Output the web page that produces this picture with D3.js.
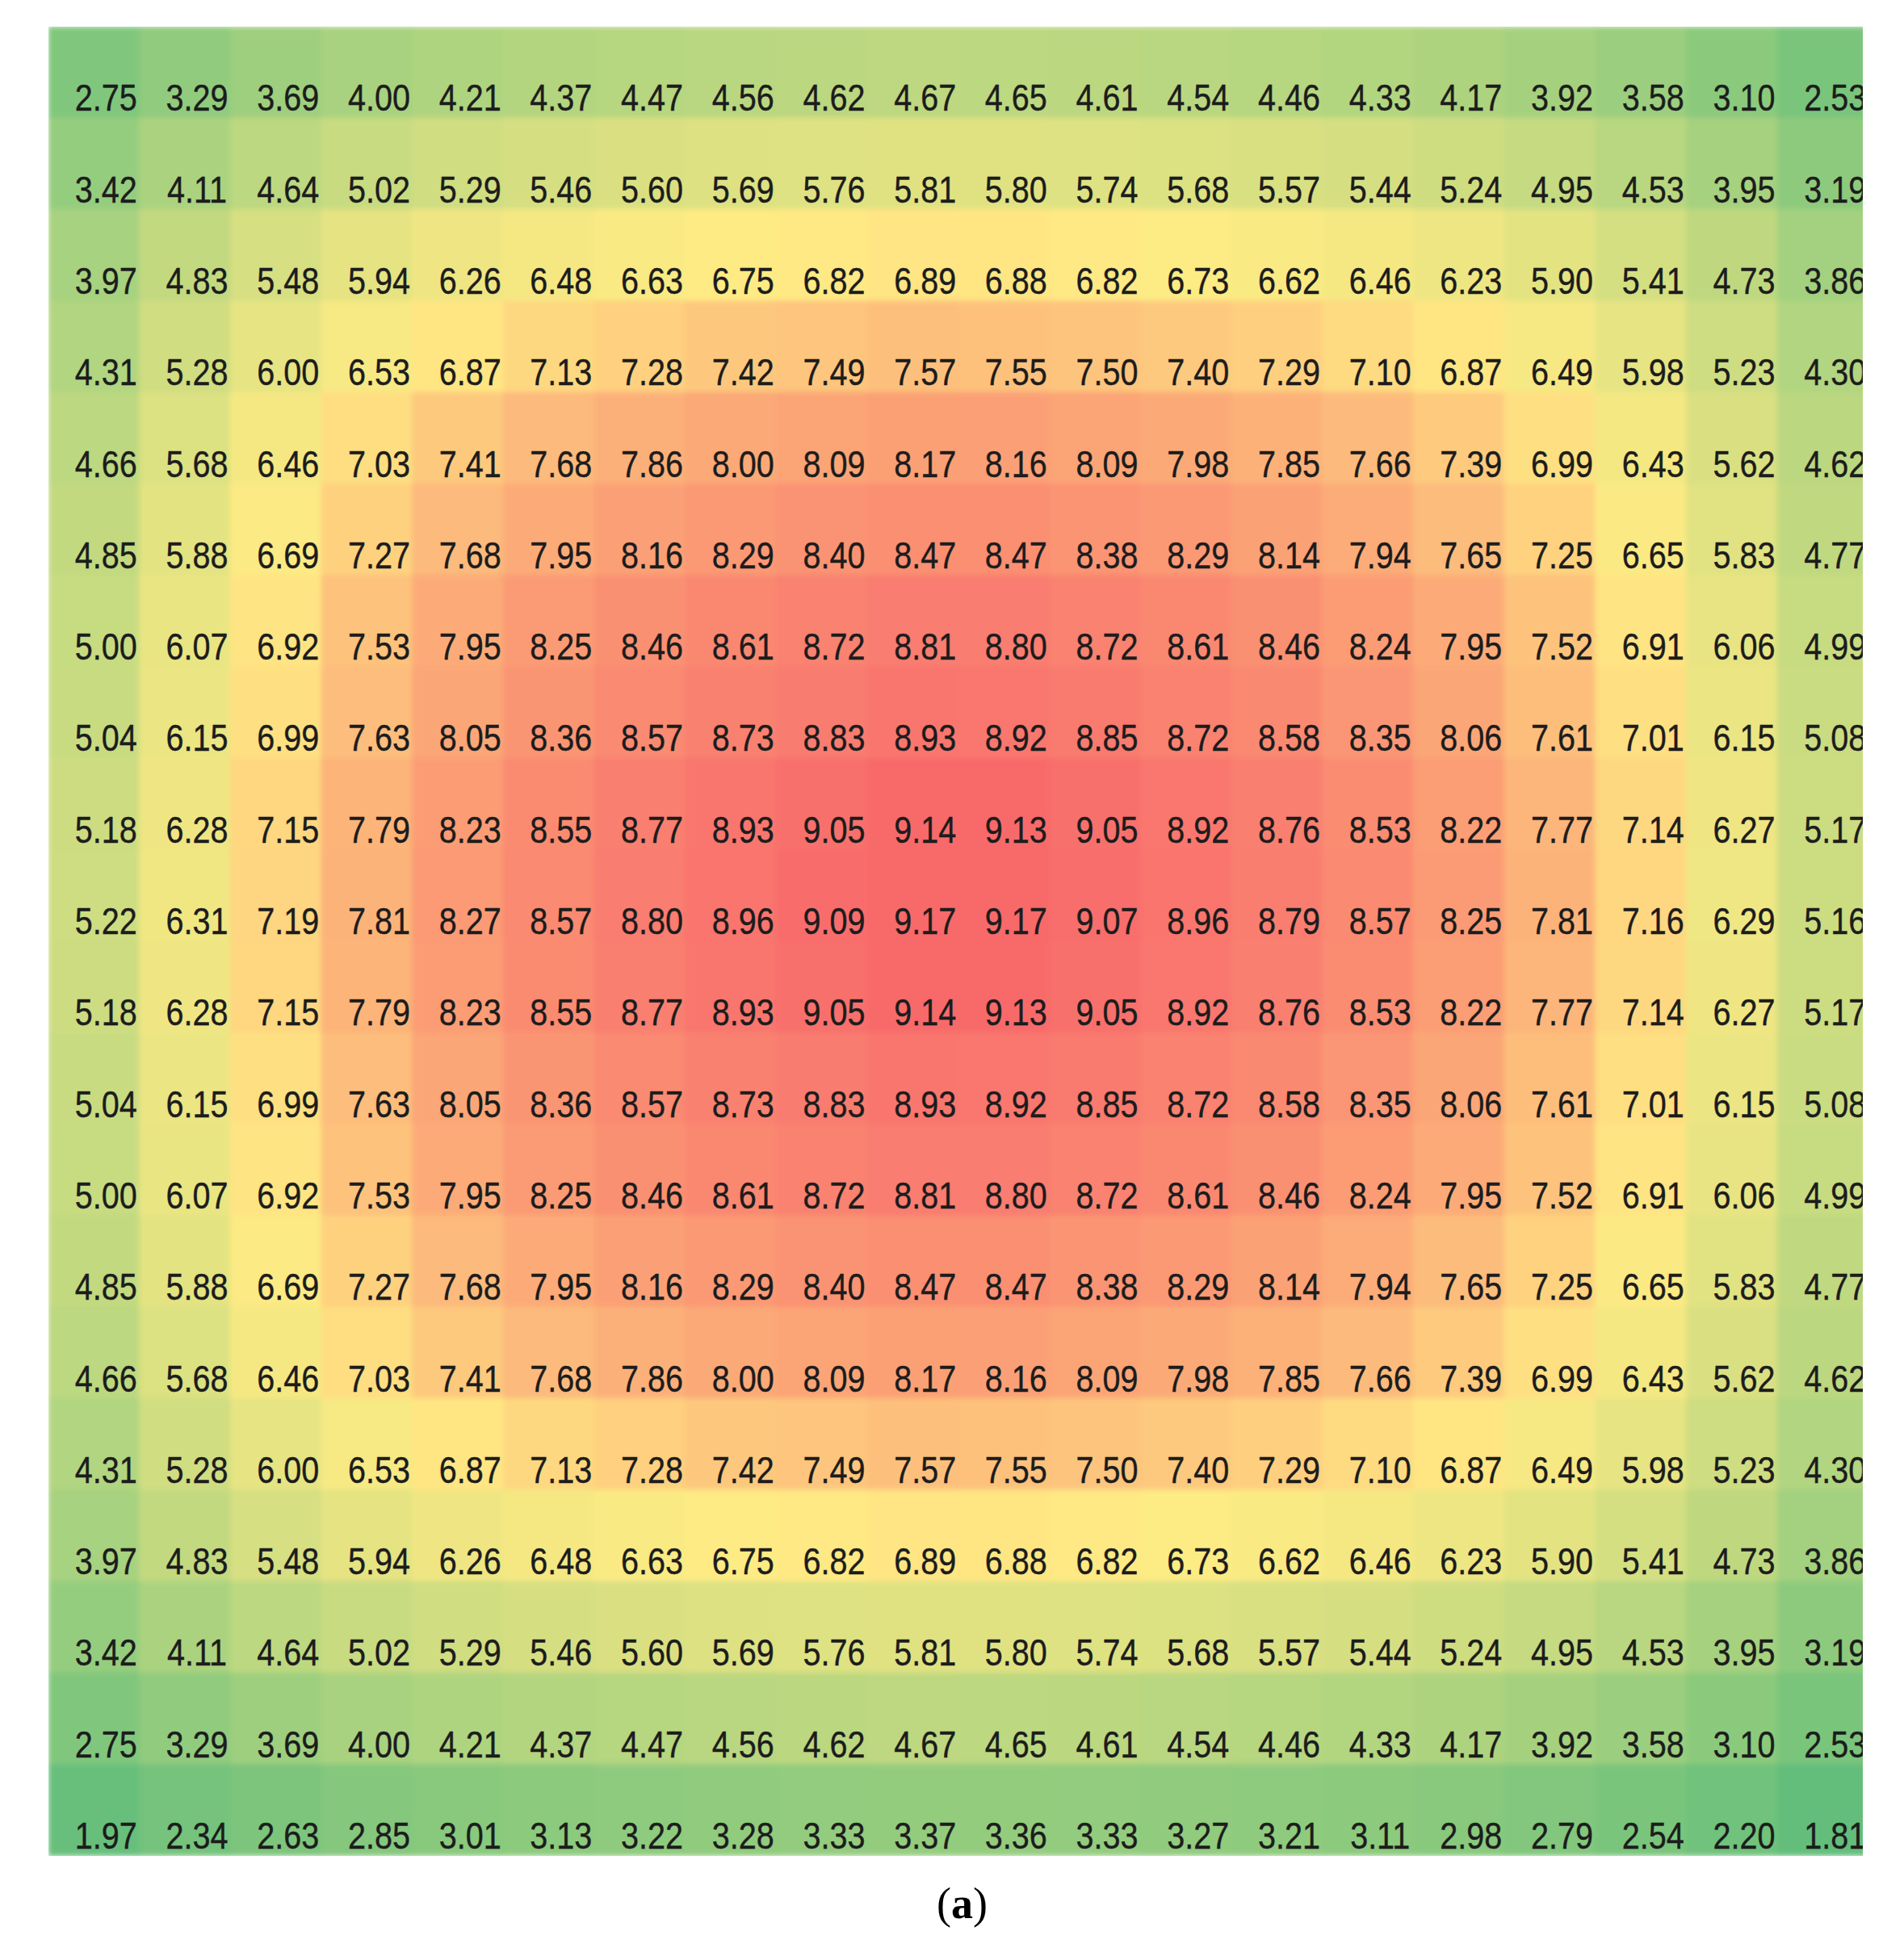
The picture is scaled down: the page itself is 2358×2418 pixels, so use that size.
<!DOCTYPE html>
<html>
<head>
<meta charset="utf-8">
<script src="https://cdn.jsdelivr.net/npm/d3@7"></script>
<style>
  body { margin: 0; background: #fff; }
</style>
</head>
<body>
<div id="chart"></div>
<script>
// cell values, read row by row (top to bottom)
var values = [
  [2.75, 3.29, 3.69, 4.00, 4.21, 4.37, 4.47, 4.56, 4.62, 4.67, 4.65, 4.61, 4.54, 4.46, 4.33, 4.17, 3.92, 3.58, 3.10, 2.53],
  [3.42, 4.11, 4.64, 5.02, 5.29, 5.46, 5.60, 5.69, 5.76, 5.81, 5.80, 5.74, 5.68, 5.57, 5.44, 5.24, 4.95, 4.53, 3.95, 3.19],
  [3.97, 4.83, 5.48, 5.94, 6.26, 6.48, 6.63, 6.75, 6.82, 6.89, 6.88, 6.82, 6.73, 6.62, 6.46, 6.23, 5.90, 5.41, 4.73, 3.86],
  [4.31, 5.28, 6.00, 6.53, 6.87, 7.13, 7.28, 7.42, 7.49, 7.57, 7.55, 7.50, 7.40, 7.29, 7.10, 6.87, 6.49, 5.98, 5.23, 4.30],
  [4.66, 5.68, 6.46, 7.03, 7.41, 7.68, 7.86, 8.00, 8.09, 8.17, 8.16, 8.09, 7.98, 7.85, 7.66, 7.39, 6.99, 6.43, 5.62, 4.62],
  [4.85, 5.88, 6.69, 7.27, 7.68, 7.95, 8.16, 8.29, 8.40, 8.47, 8.47, 8.38, 8.29, 8.14, 7.94, 7.65, 7.25, 6.65, 5.83, 4.77],
  [5.00, 6.07, 6.92, 7.53, 7.95, 8.25, 8.46, 8.61, 8.72, 8.81, 8.80, 8.72, 8.61, 8.46, 8.24, 7.95, 7.52, 6.91, 6.06, 4.99],
  [5.04, 6.15, 6.99, 7.63, 8.05, 8.36, 8.57, 8.73, 8.83, 8.93, 8.92, 8.85, 8.72, 8.58, 8.35, 8.06, 7.61, 7.01, 6.15, 5.08],
  [5.18, 6.28, 7.15, 7.79, 8.23, 8.55, 8.77, 8.93, 9.05, 9.14, 9.13, 9.05, 8.92, 8.76, 8.53, 8.22, 7.77, 7.14, 6.27, 5.17],
  [5.22, 6.31, 7.19, 7.81, 8.27, 8.57, 8.80, 8.96, 9.09, 9.17, 9.17, 9.07, 8.96, 8.79, 8.57, 8.25, 7.81, 7.16, 6.29, 5.16],
  [5.18, 6.28, 7.15, 7.79, 8.23, 8.55, 8.77, 8.93, 9.05, 9.14, 9.13, 9.05, 8.92, 8.76, 8.53, 8.22, 7.77, 7.14, 6.27, 5.17],
  [5.04, 6.15, 6.99, 7.63, 8.05, 8.36, 8.57, 8.73, 8.83, 8.93, 8.92, 8.85, 8.72, 8.58, 8.35, 8.06, 7.61, 7.01, 6.15, 5.08],
  [5.00, 6.07, 6.92, 7.53, 7.95, 8.25, 8.46, 8.61, 8.72, 8.81, 8.80, 8.72, 8.61, 8.46, 8.24, 7.95, 7.52, 6.91, 6.06, 4.99],
  [4.85, 5.88, 6.69, 7.27, 7.68, 7.95, 8.16, 8.29, 8.40, 8.47, 8.47, 8.38, 8.29, 8.14, 7.94, 7.65, 7.25, 6.65, 5.83, 4.77],
  [4.66, 5.68, 6.46, 7.03, 7.41, 7.68, 7.86, 8.00, 8.09, 8.17, 8.16, 8.09, 7.98, 7.85, 7.66, 7.39, 6.99, 6.43, 5.62, 4.62],
  [4.31, 5.28, 6.00, 6.53, 6.87, 7.13, 7.28, 7.42, 7.49, 7.57, 7.55, 7.50, 7.40, 7.29, 7.10, 6.87, 6.49, 5.98, 5.23, 4.30],
  [3.97, 4.83, 5.48, 5.94, 6.26, 6.48, 6.63, 6.75, 6.82, 6.89, 6.88, 6.82, 6.73, 6.62, 6.46, 6.23, 5.90, 5.41, 4.73, 3.86],
  [3.42, 4.11, 4.64, 5.02, 5.29, 5.46, 5.60, 5.69, 5.76, 5.81, 5.80, 5.74, 5.68, 5.57, 5.44, 5.24, 4.95, 4.53, 3.95, 3.19],
  [2.75, 3.29, 3.69, 4.00, 4.21, 4.37, 4.47, 4.56, 4.62, 4.67, 4.65, 4.61, 4.54, 4.46, 4.33, 4.17, 3.92, 3.58, 3.10, 2.53],
  [1.97, 2.34, 2.63, 2.85, 3.01, 3.13, 3.22, 3.28, 3.33, 3.37, 3.36, 3.33, 3.27, 3.21, 3.11, 2.98, 2.79, 2.54, 2.20, 1.81]
];
var scaleColors = ["#63BE7B", "#FFEB84", "#F8696B"]; // min, median, max
var caption = "a";

var width = 2358, height = 2418;
var nRows = values.length, nCols = values[0].length;

// heatmap box, the picture is cut a few px before the last column ends
var mapLeft = 60, mapTop = 33, cellW = 112.7, cellH = 113.3;
var clipRight = 2307;

var x = d3.scaleBand().domain(d3.range(nCols)).range([mapLeft, mapLeft + cellW * nCols]).padding(0);
var y = d3.scaleBand().domain(d3.range(nRows)).range([mapTop, mapTop + cellH * nRows]).padding(0);

var flat = [];
values.forEach(function (row, r) {
  row.forEach(function (v, c) { flat.push({ r: r, c: c, v: v }); });
});

// excel-like 3 colour scale (min, 50th percentile, max)
var all = flat.map(function (d) { return d.v; });
var color = d3.scaleLinear()
  .domain([d3.min(all), d3.median(all), d3.max(all)])
  .range(scaleColors);

var svg = d3.select("#chart").append("svg")
  .attr("width", width)
  .attr("height", height)
  .style("display", "block");

svg.append("rect").attr("width", width).attr("height", height).attr("fill", "#fff");

var defs = svg.append("defs");
defs.append("clipPath").attr("id", "clipMap")
  .append("rect")
  .attr("x", mapLeft).attr("y", mapTop)
  .attr("width", clipRight - mapLeft).attr("height", cellH * nRows);

// soft cell borders like in the scanned figure
defs.append("filter").attr("id", "soft")
  .attr("x", "-2%").attr("y", "-2%").attr("width", "104%").attr("height", "104%")
  .append("feGaussianBlur").attr("stdDeviation", 3).attr("edgeMode", "duplicate");

var map = svg.append("g").attr("clip-path", "url(#clipMap)");

map.append("g").attr("filter", "url(#soft)")
  .selectAll("rect")
  .data(flat)
  .enter()
  .append("rect")
  .attr("x", function (d) { return x(d.c) - 0.5; })
  .attr("y", function (d) { return y(d.r) - 0.5; })
  .attr("width", x.bandwidth() + 1)
  .attr("height", y.bandwidth() + 1)
  .attr("fill", function (d) { return color(d.v); });

// number labels, narrow looking so squeeze them a bit
map.append("g")
  .selectAll("text")
  .data(flat)
  .enter()
  .append("text")
  .attr("transform", function (d) {
    return "translate(" + (x(d.c) + x.bandwidth() / 2 + 15) + "," + (y(d.r) + y.bandwidth() - 9) + ") scale(0.86,1)";
  })
  .attr("text-anchor", "middle")
  .attr("font-family", "'Liberation Sans', Arial, sans-serif")
  .attr("font-size", 46)
  .attr("fill", "#1c1c1c")
  .attr("stroke", "#1c1c1c")
  .attr("stroke-width", 0.4)
  .text(function (d) { return d.v.toFixed(2); });

// caption under the figure
var cap = svg.append("text")
  .attr("x", (mapLeft + clipRight) / 2 + 8)
  .attr("y", 2376)
  .attr("text-anchor", "middle")
  .attr("font-family", "'Liberation Serif', 'Times New Roman', serif")
  .attr("font-size", 54)
  .attr("fill", "#000");
cap.append("tspan").text("(");
cap.append("tspan").attr("font-weight", "bold").text(caption);
cap.append("tspan").text(")");
</script>
</body>
</html>
